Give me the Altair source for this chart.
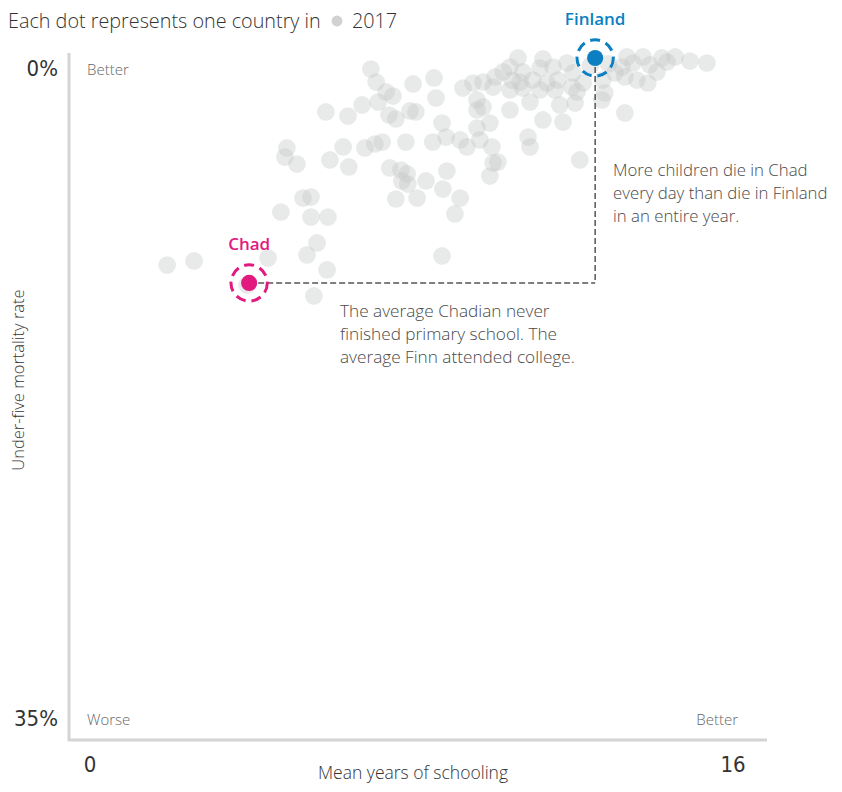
import altair as alt
import pandas as pd

# Mean years of schooling (x) and under-five mortality rate in % (y), one dot per country, 2017
school = [1.92, 2.59, 3.91, 4.43, 5.40, 5.65, 5.90, 5.57, 4.75, 5.50, 5.92, 5.30, 5.50, 4.90, 4.85,
          5.15, 5.97, 6.30, 6.44, 6.99, 7.12, 7.37, 7.54, 8.04, 8.56, 8.61, 6.77, 6.42, 5.87, 7.17,
          7.44, 7.61, 7.96, 8.11, 8.76, 8.86, 8.53, 7.86, 7.27, 7.09, 6.84, 7.46, 7.74, 7.89, 7.76,
          7.91, 8.36, 8.78, 8.88, 7.61, 8.14, 10.65, 11.27, 10.45, 10.28, 10.77, 11.20, 11.52, 11.87,
          12.02, 10.08, 9.78, 9.53, 9.28, 10.50, 10.70, 11.02, 11.37, 11.64, 11.99, 12.27, 10.03,
          10.45, 10.77, 11.20, 11.57, 12.12, 9.63, 9.78, 9.63, 10.45, 10.95, 11.69, 12.07, 11.27,
          11.77, 9.95, 9.63, 9.21, 9.38, 9.70, 10.00, 10.90, 10.95, 10.15, 10.03, 12.19, 9.95,
          13.36, 13.76, 14.23, 14.56, 14.93, 15.35, 13.51, 13.93, 14.36, 13.24, 13.06, 13.61, 13.88,
          13.31, 12.76, 12.81, 12.74, 13.31, 14.11, 9.08, 8.76, 9.21, 12.45, 12.90]
mortality = [10.76, 10.55, 11.79, 10.40, 10.24, 9.62, 11.01, 12.35, 8.03, 8.29, 8.29, 7.31, 7.26,
             4.73, 5.20, 5.56, 5.35, 4.68, 5.71, 0.67, 1.34, 1.85, 2.06, 1.44, 1.13, 2.16, 2.52,
             3.09, 2.88, 2.37, 3.04, 3.24, 2.83, 2.88, 3.45, 4.17, 4.43, 4.43, 4.43, 4.53, 4.73,
             5.76, 5.87, 6.07, 6.43, 6.59, 6.43, 6.85, 5.92, 7.36, 7.31, 0.10, 0.15, 0.57, 0.82,
             0.82, 0.62, 0.57, 0.36, 0.87, 1.08, 1.34, 1.39, 1.65, 1.24, 1.34, 1.24, 1.39, 1.24,
             1.60, 1.39, 1.60, 1.75, 1.65, 1.75, 1.75, 1.85, 2.26, 2.62, 2.78, 2.78, 2.37, 2.52,
             2.42, 3.29, 3.40, 3.45, 3.71, 4.32, 4.68, 4.32, 4.68, 4.17, 4.68, 5.46, 5.51, 5.35,
             6.18, 0.05, 0.05, 0.10, 0.05, 0.26, 0.36, 0.36, 0.46, 0.31, 0.57, 0.87, 1.24, 1.39,
             1.08, 1.24, 1.90, 2.26, 2.93, 0.82, 8.13, 10.29, 7.31, 0.50, 0.40]

highlight_names = ["Chad", "Finland"]
highlight_school = [3.96, 12.57]
highlight_mortality = [11.68, 0.10]
highlight_colors = ["#e2197f", "#0b7fc2"]

x_ticks = ["0", "16"]
y_ticks = ["0%", "35%"]

note_finland = ["More children die in Chad", "every day than die in Finland", "in an entire year."]
note_chad = ["The average Chadian never", "finished primary school. The", "average Finn attended college."]

TEXT_FONT = "Open Sans"
NUM_FONT = "DejaVu Sans Condensed"

X_SCALE = alt.Scale(domain=[0, 16], range=[82, 725])
Y_SCALE = alt.Scale(domain=[0, 35], range=[48, 728])

dots = pd.DataFrame({"school": school, "mortality": mortality})
hl = pd.DataFrame({"country": highlight_names, "school": highlight_school,
                   "mortality": highlight_mortality, "color": highlight_colors})
conn = pd.DataFrame({"cx": [highlight_school[0]], "cy": [highlight_mortality[0]],
                     "fx": [highlight_school[1]], "fy": [highlight_mortality[1]]})
one = pd.DataFrame({"k": [0]})

X = lambda f: alt.X(f, type="quantitative", scale=X_SCALE, axis=None)
Y = lambda f: alt.Y(f, type="quantitative", scale=Y_SCALE, axis=None)

axis_color = "#d4d4d4"
v_axis = alt.Chart(one).mark_rule(color=axis_color, strokeWidth=3).encode(
    x=alt.value(61), y=alt.value(45), y2=alt.value(733))
h_axis = alt.Chart(one).mark_rule(color=axis_color, strokeWidth=3).encode(
    y=alt.value(732), x=alt.value(60), x2=alt.value(759))

gray = alt.Chart(dots).mark_circle(size=314, color="#c6c7c8", opacity=0.4).encode(
    x=X("school"), y=Y("mortality"))

h_line = alt.Chart(conn).mark_rule(color="#555555", strokeWidth=1.5, strokeDash=[6, 3]).encode(
    x=X("cx"), x2="fx", y=Y("cy"))
v_line = alt.Chart(conn).mark_rule(color="#555555", strokeWidth=1.5, strokeDash=[6, 3]).encode(
    x=X("fx"), y=Y("fy"), y2="cy")

rings = alt.Chart(hl).mark_point(shape="circle", filled=False, size=1320, strokeWidth=3,
                                 strokeDash=[10, 6], opacity=1).encode(
    x=X("school"), y=Y("mortality"), color=alt.Color("color:N", scale=None, legend=None))
hl_dots = alt.Chart(hl).mark_circle(size=260, opacity=1).encode(
    x=X("school"), y=Y("mortality"), color=alt.Color("color:N", scale=None, legend=None))
hl_labels = alt.Chart(hl).mark_text(dy=-38, fontSize=17, fontWeight=600, font=TEXT_FONT).encode(
    x=X("school"), y=Y("mortality"), text="country:N",
    color=alt.Color("color:N", scale=None, legend=None))

def txt(x, y, text, size=16, align="left", baseline="alphabetic", color="#444444",
        font=TEXT_FONT, weight=300, angle=0, line_height=23):
    kw = dict(align=align, baseline=baseline, fontSize=size, color=color, font=font,
              fontWeight=weight, lineHeight=line_height)
    if angle:
        kw["angle"] = angle
    return alt.Chart(one).mark_text(**kw).encode(x=alt.value(x), y=alt.value(y), text=alt.value(text))

title_a = txt(0, 20, "Each dot represents one country in", size=19.8, color="#333333")
title_dot = alt.Chart(one).mark_circle(size=120, color="#d0d1d2", opacity=1).encode(
    x=alt.value(329), y=alt.value(13))
title_b = txt(344, 20, "2017", size=19.8, color="#333333")

num_kw = dict(size=22, font=NUM_FONT, weight=400, color="#333333", baseline="middle")
y_lab0 = txt(50, 61, y_ticks[0], align="right", **num_kw)
y_lab1 = txt(50, 711, y_ticks[1], align="right", **num_kw)
x_lab0 = txt(82, 757, x_ticks[0], align="center", **num_kw)
x_lab1 = txt(725, 757, x_ticks[1], align="center", **num_kw)
x_title = txt(405, 771, "Mean years of schooling", size=17.5, align="center",
              color="#333333")
y_title = txt(11, 372, "Under-five mortality rate", size=16.5, align="center", baseline="middle",
              color="#333333", angle=270)

better_top = txt(79, 62, "Better", size=15, baseline="middle", color="#666666")
worse = txt(79, 712, "Worse", size=15, baseline="middle", color="#666666")
better_right = txt(730, 712, "Better", size=15, align="right", baseline="middle",
                   color="#666666")

note1 = txt(605, 168, note_finland, size=16.8, color="#4a4a4a")
note2 = txt(332, 309, note_chad, size=17.2, color="#4a4a4a")

chart = alt.layer(
    v_axis, h_axis, gray, h_line, v_line, rings, hl_dots, hl_labels,
    title_a, title_dot, title_b, y_lab0, y_lab1, x_lab0, x_lab1, x_title, y_title,
    better_top, worse, better_right, note1, note2
).properties(
    width=826, height=776, padding=0,
    autosize=alt.AutoSizeParams(type="none"),
    background="white",
).configure_view(stroke=None)

chart.save("out.html", embed_options={"renderer": "svg", "actions": False})
